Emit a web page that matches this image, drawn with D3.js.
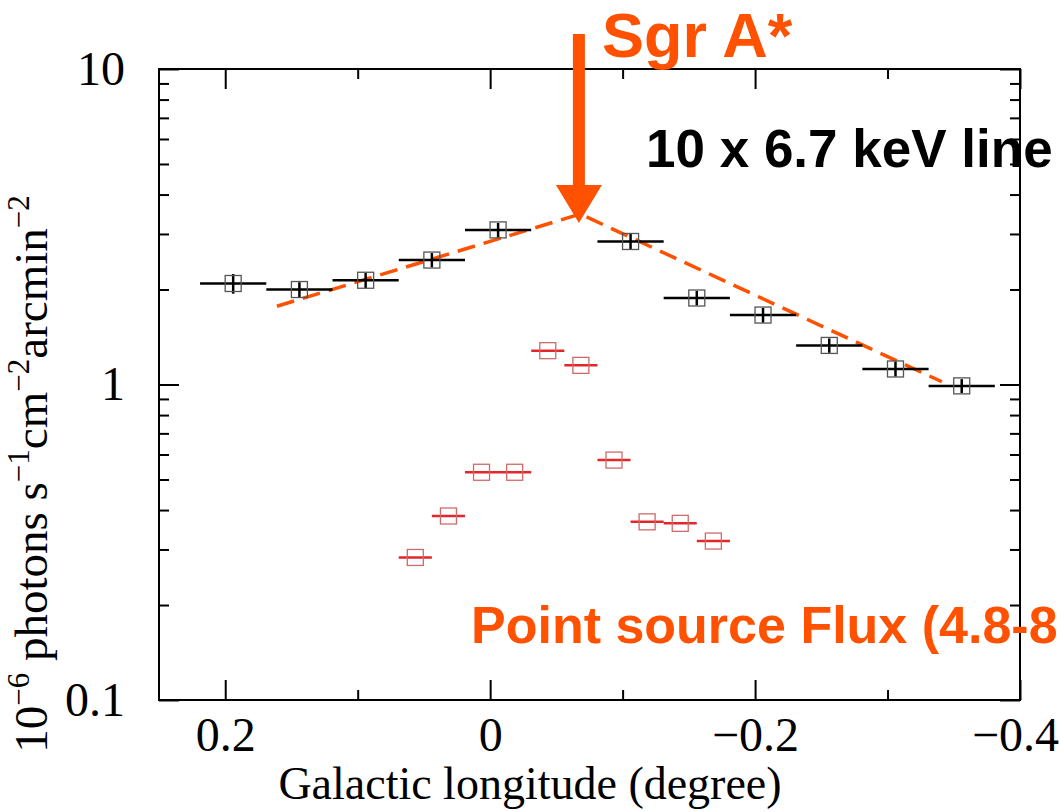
<!DOCTYPE html>
<meta charset="utf-8">
<style>
    body { margin: 0; background: #fff; }
    svg { display: block; font-family: "Liberation Serif", "Times New Roman", serif; }
    .axis line { stroke: #000; stroke-width: 2; }
    .axis text { font-family: "Liberation Serif", "Times New Roman", serif; font-size: 48px; fill: #000; }
    .note { font-family: "Liberation Sans", Arial, sans-serif; font-weight: bold; }
</style>
<svg width="1059" height="812"></svg>
<script src="https://d3js.org/d3.v7.min.js"></script>
<script>

    // 10 x 6.7 keV line intensity (black squares)
    var lineLon = [0.194, 0.144, 0.094, 0.044, -0.006, -0.106, -0.156, -0.206, -0.256, -0.306, -0.356];
    var lineVal = [2.09, 2.00, 2.14, 2.48, 3.09, 2.84, 1.88, 1.66, 1.33, 1.12, 0.99];
    var lineErr = [0.15, 0.11, 0.12, 0.13, 0.16, 0.16, 0.10, 0.09, 0.07, 0.06, 0.05];
    var lineBin = 0.05;

    // point source flux 4.8-8 keV (red squares)
    var srcLon = [0.0565, 0.0315, 0.0065, -0.0185, -0.0435, -0.0685, -0.0935, -0.1185, -0.1435, -0.1685];
    var srcVal = [0.283, 0.383, 0.527, 0.527, 1.28, 1.15, 0.576, 0.367, 0.363, 0.319];
    var srcBin = 0.025;

    // broken line drawn dashed over the 6.7 keV profile
    var modelLon = [0.161, -0.068, -0.341];
    var modelVal = [1.77, 3.47, 1.02];

    var sgrALon = -0.067;

    // ticks
    var xMajor = [0.2, 0, -0.2, -0.4];
    var xMinor = [0.1, -0.1, -0.3];
    var yMajor = [0.1, 1, 10];
    var yMinor = [0.2, 0.3, 0.4, 0.5, 0.6, 0.7, 0.8, 0.9, 2, 3, 4, 5, 6, 7, 8, 9];

    var orange = "#ff5100";

    var svg = d3.select("svg"),
        margin = { top: 69, right: 39, bottom: 112, left: 159 },
        width = +svg.attr("width") - margin.left - margin.right,
        height = +svg.attr("height") - margin.top - margin.bottom;

    var x = d3.scaleLinear()
        .domain([0.25, -0.4])
        .range([margin.left, margin.left + width]);

    var y = d3.scaleLog()
        .domain([0.1, 10])
        .range([margin.top + height, margin.top]);

    var fmtX = function (d) { return d === 0 ? "0" : d3.format(".1f")(d); };

    function noDomain(g) { g.select(".domain").remove(); }

    // frame
    svg.append("rect")
        .attr("x", x(0.25)).attr("y", y(10))
        .attr("width", width).attr("height", height)
        .attr("fill", "none").attr("stroke", "#000").attr("stroke-width", 2);

    // bottom / top axes, ticks point inward
    var xAxis = svg.append("g").attr("class", "axis")
        .attr("transform", "translate(0," + y(0.1) + ")")
        .call(d3.axisBottom(x).tickValues(xMajor).tickSize(-20).tickPadding(17).tickFormat(fmtX))
        .call(noDomain);
    // last label sits on the right edge, nudge it in
    xAxis.selectAll(".tick text").filter(function (d) { return d === -0.4; }).attr("dx", -5);

    svg.append("g").attr("class", "axis")
        .attr("transform", "translate(0," + y(0.1) + ")")
        .call(d3.axisBottom(x).tickValues(xMinor).tickSize(-10).tickFormat(""))
        .call(noDomain);
    svg.append("g").attr("class", "axis")
        .attr("transform", "translate(0," + y(10) + ")")
        .call(d3.axisTop(x).tickValues(xMajor).tickSize(-20).tickFormat(""))
        .call(noDomain);
    svg.append("g").attr("class", "axis")
        .attr("transform", "translate(0," + y(10) + ")")
        .call(d3.axisTop(x).tickValues(xMinor).tickSize(-10).tickFormat(""))
        .call(noDomain);

    // left / right axes
    svg.append("g").attr("class", "axis")
        .attr("transform", "translate(" + x(0.25) + ",0)")
        .call(d3.axisLeft(y).tickValues(yMajor).tickSize(-20).tickPadding(34).tickFormat(function (d) { return String(d); }))
        .call(noDomain);
    svg.append("g").attr("class", "axis")
        .attr("transform", "translate(" + x(0.25) + ",0)")
        .call(d3.axisLeft(y).tickValues(yMinor).tickSize(-10).tickFormat(""))
        .call(noDomain);
    svg.append("g").attr("class", "axis")
        .attr("transform", "translate(" + x(-0.4) + ",0)")
        .call(d3.axisRight(y).tickValues(yMajor).tickSize(-20).tickFormat(""))
        .call(noDomain);
    svg.append("g").attr("class", "axis")
        .attr("transform", "translate(" + x(-0.4) + ",0)")
        .call(d3.axisRight(y).tickValues(yMinor).tickSize(-10).tickFormat(""))
        .call(noDomain);

    // axis titles
    svg.append("text")
        .attr("x", 530).attr("y", 799)
        .attr("text-anchor", "middle")
        .attr("font-size", 46)
        .text("Galactic longitude (degree)");

    var ylab = svg.append("text")
        .attr("transform", "translate(47,474) rotate(-90)")
        .attr("text-anchor", "middle")
        .attr("font-size", 47);
    var parts = [["10", false], ["\u22126", true], [" photons s", false], ["\u22121", true],
                 ["cm", false], ["\u22122", true], ["arcmin", false], ["\u22122", true]];
    parts.forEach(function (p, i) {
        var t = ylab.append("tspan").text(p[0]);
        if (p[1]) t.attr("font-size", 31).attr("dy", -18);
        else if (i > 0) t.attr("dy", 18);
    });

    // dashed model line
    var line = d3.line()
        .x(function (d, i) { return x(modelLon[i]); })
        .y(function (d) { return y(d); });

    svg.append("path")
        .datum(modelVal)
        .attr("d", line)
        .attr("fill", "none")
        .attr("stroke", orange)
        .attr("stroke-width", 3.5)
        .attr("stroke-dasharray", "18,9");

    // 6.7 keV points
    var half = 8;
    var lg = svg.append("g").selectAll("g")
        .data(lineVal)
        .join("g");
    lg.append("line")
        .attr("x1", function (d, i) { return x(lineLon[i] + lineBin / 2); })
        .attr("x2", function (d, i) { return x(lineLon[i] - lineBin / 2); })
        .attr("y1", function (d) { return y(d); })
        .attr("y2", function (d) { return y(d); })
        .attr("stroke", "#000").attr("stroke-width", 2.5);
    lg.append("line")
        .attr("x1", function (d, i) { return x(lineLon[i]); })
        .attr("x2", function (d, i) { return x(lineLon[i]); })
        .attr("y1", function (d, i) { return y(d - lineErr[i]); })
        .attr("y2", function (d, i) { return y(d + lineErr[i]); })
        .attr("stroke", "#000").attr("stroke-width", 2.5);
    lg.append("rect")
        .attr("x", function (d, i) { return x(lineLon[i]) - half; })
        .attr("y", function (d) { return y(d) - half; })
        .attr("width", 2 * half).attr("height", 2 * half)
        .attr("fill", "none").attr("stroke", "#555").attr("stroke-width", 1.3);

    // point source points
    var sg = svg.append("g").selectAll("g")
        .data(srcVal)
        .join("g");
    sg.append("line")
        .attr("x1", function (d, i) { return x(srcLon[i] + srcBin / 2); })
        .attr("x2", function (d, i) { return x(srcLon[i] - srcBin / 2); })
        .attr("y1", function (d) { return y(d); })
        .attr("y2", function (d) { return y(d); })
        .attr("stroke", "#e3262a").attr("stroke-width", 2.5);
    sg.append("rect")
        .attr("x", function (d, i) { return x(srcLon[i]) - half; })
        .attr("y", function (d) { return y(d) - half; })
        .attr("width", 2 * half).attr("height", 2 * half)
        .attr("fill", "none").attr("stroke", "#cf6a6a").attr("stroke-width", 1.3);

    // Sgr A* arrow
    var ax = x(sgrALon), tip = y(3.25);
    svg.append("rect")
        .attr("x", ax - 6).attr("y", 34)
        .attr("width", 12).attr("height", tip - 36 - 34)
        .attr("fill", orange);
    svg.append("path")
        .attr("d", "M" + (ax - 23) + "," + (tip - 38) + "L" + (ax + 23) + "," + (tip - 38) + "L" + ax + "," + tip + "Z")
        .attr("fill", orange);

    // annotations
    svg.append("text").attr("class", "note")
        .attr("x", 602).attr("y", 57)
        .attr("font-size", 63).attr("fill", orange)
        .text("Sgr A*");
    svg.append("text").attr("class", "note")
        .attr("x", 646).attr("y", 167)
        .attr("font-size", 53).attr("fill", "#000")
        .text("10 x 6.7 keV line");
    svg.append("text").attr("class", "note")
        .attr("x", 471).attr("y", 643)
        .attr("font-size", 52).attr("fill", orange)
        .text("Point source Flux (4.8-8");

</script>
